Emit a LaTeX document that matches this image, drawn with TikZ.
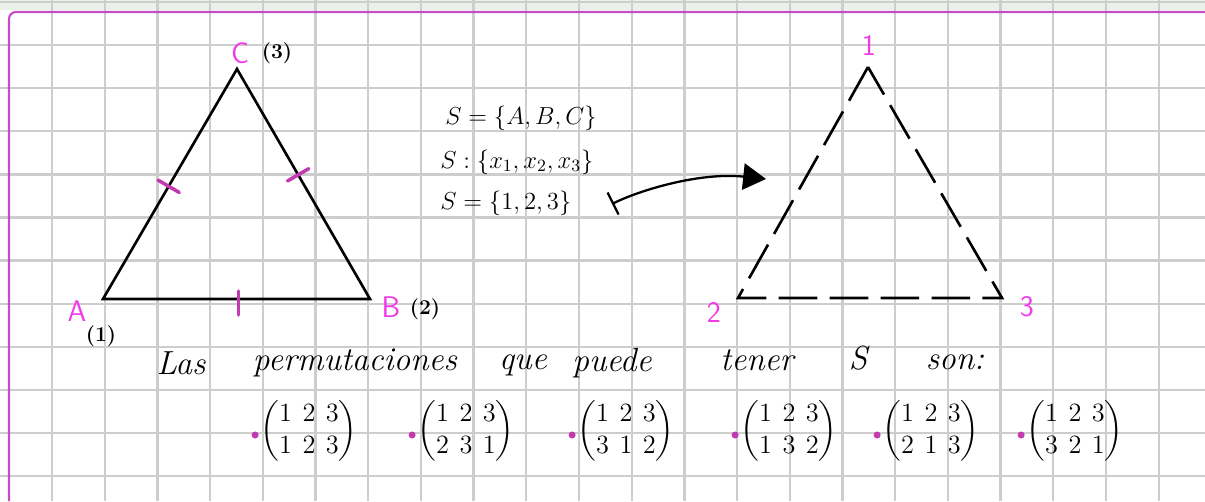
\RequirePackage{fix-cm}
\documentclass[tikz,border=0pt]{standalone}
\usepackage{amsmath}
\usetikzlibrary{calc, positioning, arrows.meta}

\begin{document}
\begin{tikzpicture}[x=0.02cm, y=-0.02cm]
    % Define colours
    \definecolor{gridColour}{HTML}{CDCDCD}
    \definecolor{marginColour}{HTML}{C64CC6}
    \definecolor{labelColour}{HTML}{F03CE6}
    \definecolor{tickColour}{HTML}{C23AB0}
    \definecolor{topColour}{HTML}{E9F1E9}

    \tikzset{
        side/.style={line width=1.5pt, black, line join=miter},
        tickmark/.style={line width=2pt, tickColour, line cap=round},
        vlabel/.style={inner sep=0pt, text=labelColour, font=\fontsize{17}{20}\selectfont\sffamily},
        numlabel/.style={inner sep=0pt, font=\fontsize{12}{14}\selectfont\bfseries},
        settext/.style={inner sep=0pt, anchor=west, font=\fontsize{14}{17}\selectfont},
        prose/.style={inner sep=0pt, font=\fontsize{19}{22}\selectfont\itshape},
        perm/.style={inner sep=0pt, font=\fontsize{15}{18}\selectfont},
        bullet/.style={circle, fill=tickColour, inner sep=0pt, minimum size=4pt}
    }

    \useasboundingbox (0,0) rectangle (1205,501);
    \fill[topColour] (0,0) rectangle (1205,10);

    % Draw grid
    \foreach \i in {1,...,22}
        \draw[gridColour, line width=1.3pt] ({-0.7+52.7*\i},0) -- ({-0.7+52.7*\i},501);
    \foreach \j in {0,...,11}
        \draw[gridColour, line width=1.3pt] (0,{2+43.1*\j}) -- (1205,{2+43.1*\j});

    % Draw margin
    \draw[marginColour, line width=1.2pt, rounded corners=4pt] (9,501) -- (9,12) -- (1205,12);

    % Define coordinates for the original triangle
    \coordinate (A) at (103,299);
    \coordinate (B) at (370,299);
    \coordinate (C) at (237,69);
    \draw[side] (A) -- (B) -- (C) -- cycle;

    % Equal sides
    \coordinate (mAC) at ($(A)!0.49!(C)$);
    \coordinate (mCB) at ($(C)!0.46!(B)$);
    \coordinate (mAB) at ($(A)!0.508!(B)$);
    \draw[tickmark] ($(mAC)!7pt!90:(C)$) -- ($(mAC)!7pt!-90:(C)$);
    \draw[tickmark] ($(mCB)!7pt!90:(B)$) -- ($(mCB)!7pt!-90:(B)$);
    \draw[tickmark] ($(mAB)+(0,-8)$) -- ($(mAB)+(0,16)$);

    % Vertex labels
    \node[vlabel] (labA) at (77,311) {A};
    \node[numlabel] (numA) at (101,336) {(1)};
    \node[vlabel] (labB) at (391,307) {B};
    \node[numlabel] (numB) at (425,309) {(2)};
    \node[vlabel] (labC) at (240,53) {C};
    \node[numlabel] (numC) at (277,53) {(3)};

    % The set
    \node[settext] (s1) at (445,118) {$S=\{A,B,C\}$};
    \node[settext] (s2) at (440,162) {$S:\{x_1,x_2,x_3\}$};
    \node[settext] (s3) at (440,203) {$S=\{1,2,3\}$};

    % Define coordinates for the relabelled triangle
    \coordinate (P) at (868,67);
    \coordinate (Q) at (738,298);
    \coordinate (R) at (1002,298);
    \draw[side, dash pattern=on 22pt off 7pt] (P) -- (Q) -- (R) -- cycle;
    \node[vlabel] (n1) at (869,45) {1};
    \node[vlabel] (n2) at (714,312) {2};
    \node[vlabel] (n3) at (1027,307) {3};

    % Arrow from the set to the triangle
    \coordinate (tail) at (612,204);
    \coordinate (tip) at (766,179);
    \draw[line width=1.3pt, {Bar[width=14pt]}-{Triangle[length=13pt, width=15pt]}]
        (tail) .. controls (640,190) and (700,172) .. (tip);

    % Sentence
    \node[prose] (w1) at (181,363) {Las};
    \node[prose] (w2) at (355,363) {permutaciones};
    \node[prose] (w3) at (523,365) {que};
    \node[prose] (w4) at (612,363) {puede};
    \node[prose] (w5) at (757,360) {tener};
    \node[prose] (w6) at (858,358) {S};
    \node[prose] (w7) at (955,362) {son:};

    % Permutations
    \setlength{\arraycolsep}{3pt}
    \foreach \n/\cx/\p/\q/\r in {1/309/1/2/3, 2/466/2/3/1, 3/626/3/1/2, 4/789/1/3/2, 5/931/2/1/3, 6/1075/3/2/1} {
        \node[perm] (m\n) at (\cx,431) {$\begin{pmatrix}1&2&3\\\p&\q&\r\end{pmatrix}$};
        \node[bullet] (b\n) at ($(m\n.west)+(-5,4)$) {};
    }

\end{tikzpicture}
\end{document}
